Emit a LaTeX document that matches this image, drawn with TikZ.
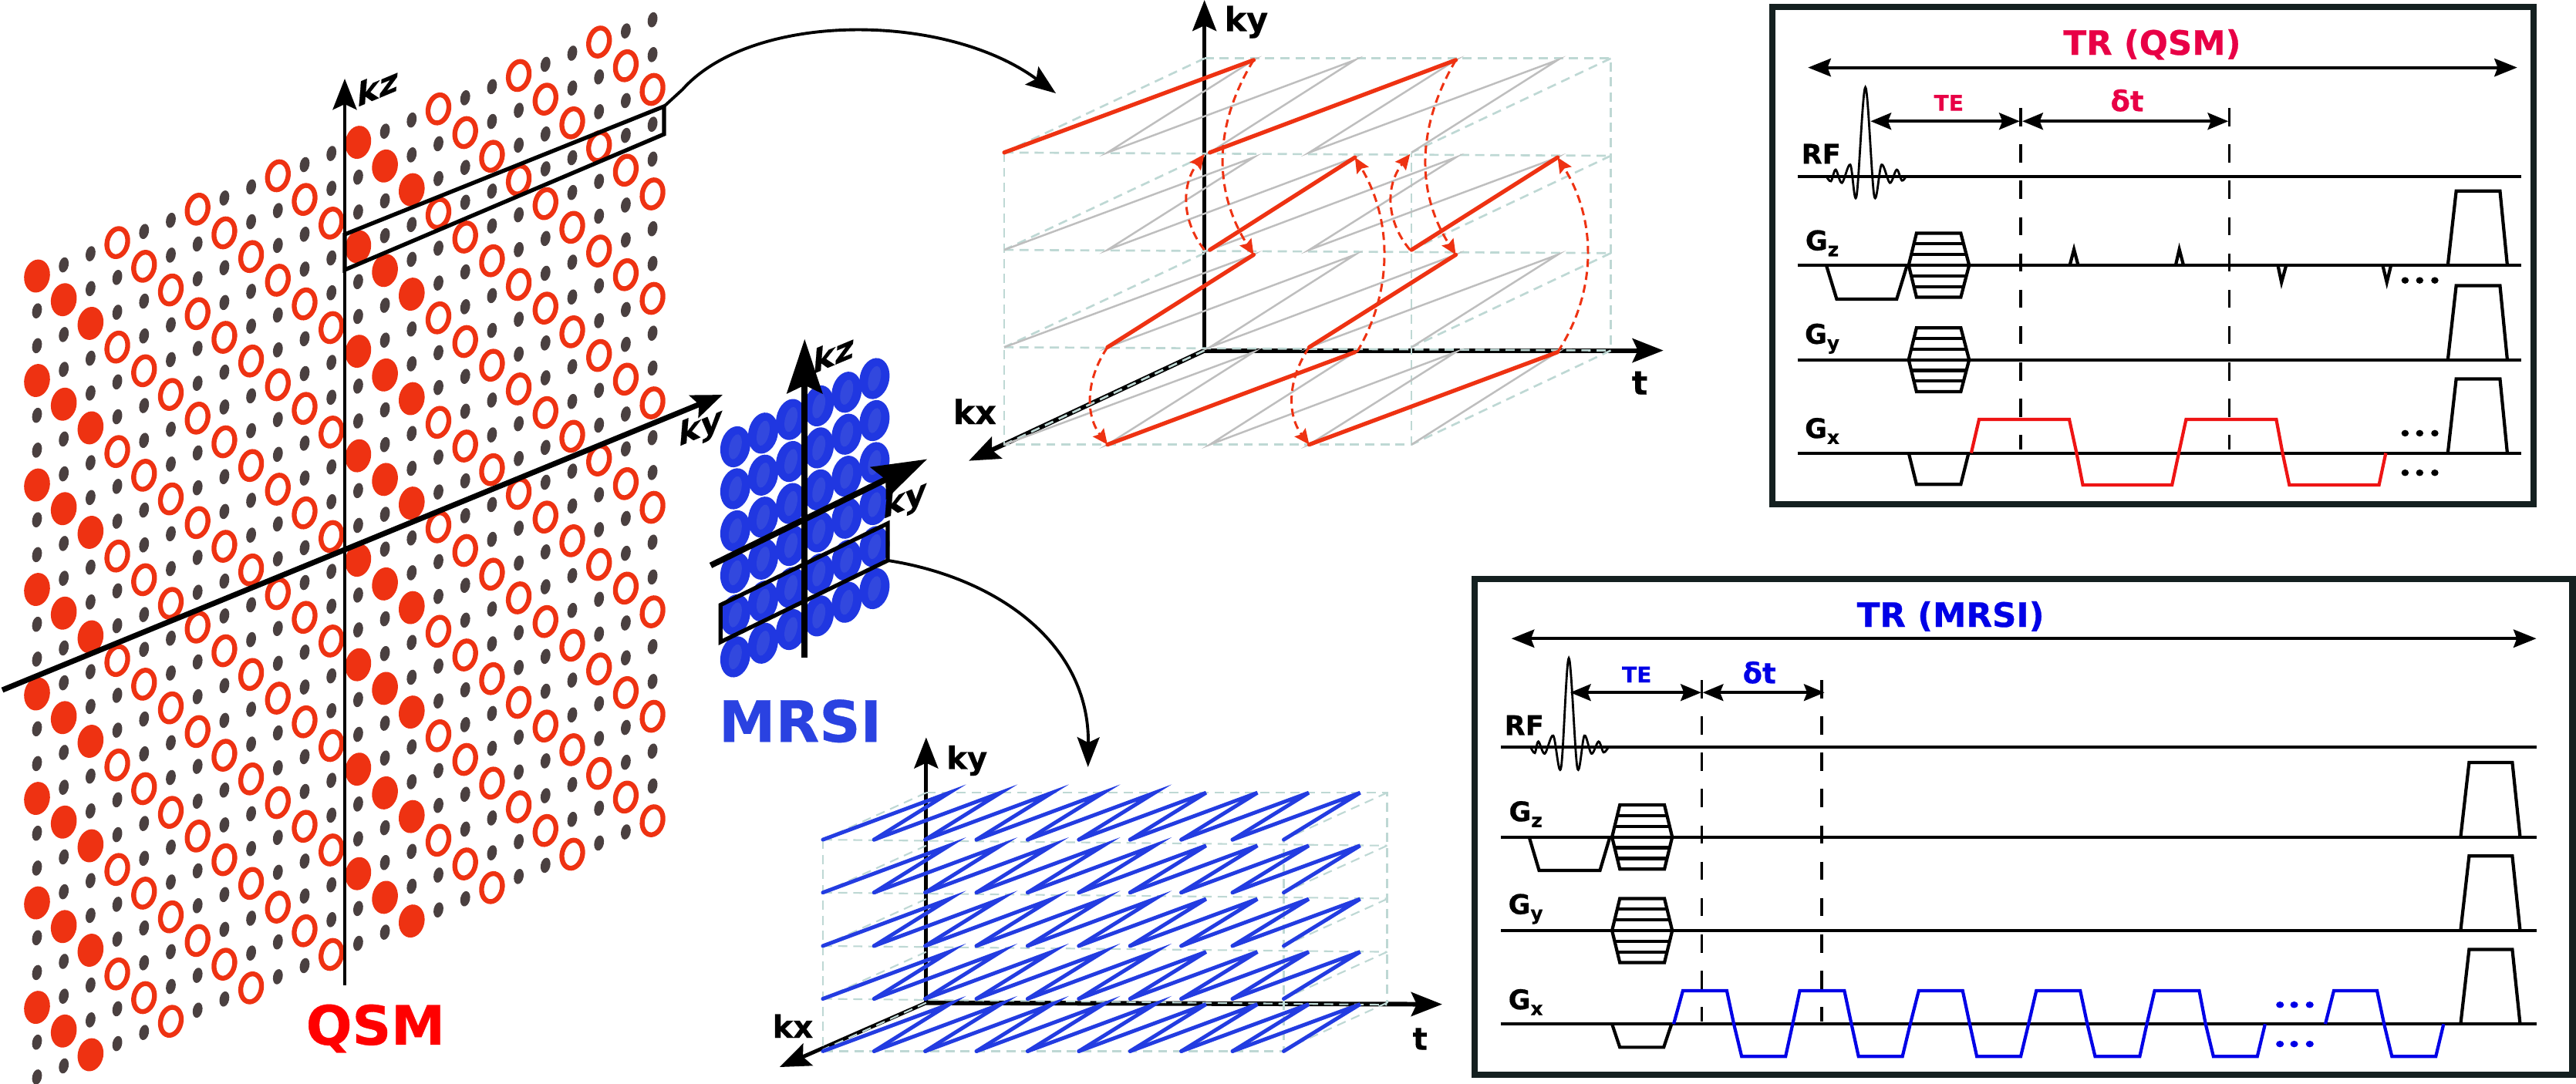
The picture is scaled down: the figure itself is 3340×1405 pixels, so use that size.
\documentclass[tikz,border=0pt]{standalone}
\usepackage{fontspec}
\setmainfont{DejaVu Sans}[BoldFeatures={FakeBold=0.5}]
\usetikzlibrary{arrows.meta}
\definecolor{qred}{RGB}{238,50,18}
\definecolor{qdot}{RGB}{74,64,64}
\definecolor{mblue}{RGB}{32,55,225}
\definecolor{mbluein}{RGB}{50,72,222}
\definecolor{mlabel}{RGB}{42,66,225}
\definecolor{griddash}{RGB}{190,216,212}
\definecolor{zigray}{RGB}{190,190,190}
\definecolor{zigblue}{RGB}{35,60,225}
\definecolor{boxdark}{RGB}{20,32,32}
\definecolor{trq}{RGB}{232,0,70}
\definecolor{trm}{RGB}{0,0,230}
\definecolor{readred}{RGB}{238,20,20}
\tikzset{
  x=0.01cm,y=-0.01cm,
  axishead/.style={-{Stealth[length=11.4pt,width=8.8pt,inset=2pt]}},
  bigaxis/.style={axishead,line width=1.6pt,black},
  thinaxis/.style={axishead,line width=1.4pt,black},
  griddashed/.style={griddash,line width=0.75pt,dash pattern=on 3.4pt off 2.2pt},
  zig/.style={zigray,line width=0.7pt},
  redzig/.style={qred,line width=1.5pt,line cap=round},
  redarc/.style={qred,line width=0.85pt,dash pattern=on 3pt off 1.8pt,-{Stealth[length=5.6pt,width=5pt,inset=0.8pt]}},
  bluezig/.style={zigblue,line width=1.4pt,line join=miter,line cap=round},
  selbox/.style={black,line width=1.5pt,line join=miter},
  curvearrow/.style={black,line width=1.1pt,-{Stealth[length=11pt,width=8.2pt,inset=2pt]}},
  axlabel/.style={font=\fontsize{12.2}{12.2}\selectfont\bfseries,inner sep=0pt},
  frame/.style={boxdark,line width=2.3pt},
  baseln/.style={black,line width=1.15pt},
  pulse/.style={black,line width=1.2pt,line join=miter},
  rfwave/.style={black,line width=0.8pt},
  dbl/.style={black,line width=1.2pt,{Stealth[length=8.4pt,width=6.6pt,inset=1.2pt]}-{Stealth[length=8.4pt,width=6.6pt,inset=1.2pt]}},
  dblsmall/.style={black,line width=1.05pt,{Stealth[length=7.6pt,width=6.2pt,inset=1.2pt]}-{Stealth[length=7.6pt,width=6.2pt,inset=1.2pt]}},
  timing/.style={black,line width=0.95pt,dash pattern=on 6.7pt off 6.7pt},
  seqlabel/.style={font=\fontsize{10}{10}\selectfont\bfseries,inner sep=0pt},
  trlabel/.style={font=\fontsize{12.4}{12.4}\selectfont\bfseries,inner sep=0pt},
  telabel/.style={font=\fontsize{8}{8}\selectfont\bfseries,inner sep=0pt},
  dtlabel/.style={font=\fontsize{10.5}{10.5}\selectfont\bfseries,inner sep=0pt},
  redread/.style={readred,line width=1.2pt,line join=miter},
  blueread/.style={trm,line width=1.2pt,line join=miter}
}
\newcommand{\Gsub}[2]{#1\raisebox{-0.4ex}{\fontsize{7}{7}\selectfont #2}}
\newcommand{\hexblob}[6]{% L l r R base halfheight(scope units)
  \draw[pulse] (#1,#5) -- (#2,#5-#6) -- (#3,#5-#6) -- (#4,#5) -- (#3,#5+#6) -- (#2,#5+#6) -- cycle;
  \foreach \f in {0.333,0.667}{
    \pgfmathsetmacro{\xl}{#1+(#2-#1)*\f}
    \pgfmathsetmacro{\xr}{#4-(#4-#3)*\f}
    \draw[pulse] (\xl,#5-#6*\f) -- (\xr,#5-#6*\f);
    \draw[pulse] (\xl,#5+#6*\f) -- (\xr,#5+#6*\f);
  }
}
\newcommand{\shlabel}[4]{\node[shift={(#2,#3)},cm={1,0.418,0.08,1,(0,0)},transform shape,axlabel] (#1) at (0,0) {#4};}
\begin{document}
\begin{tikzpicture}
\path[use as bounding box,fill=white] (0,0) rectangle (3340,1405);

% ---- QSM lattice ----
\foreach \i in {0,...,23}{
  \pgfmathsetmacro{\xx}{48+34.7*\i}
  \foreach \j in {0,...,23}{
    \pgfmathsetmacro{\yy}{358-14.45*\i+45.17*\j}
    \pgfmathtruncatemacro{\isbig}{mod(\j-\i+60,3)==0 ? 1 : 0}
    \pgfmathtruncatemacro{\isfill}{(\i<3 || (\i>11 && \i<15)) ? 1 : 0}
    \ifnum\isbig=1
      \ifnum\isfill=1
        \fill[qred,shift={(\xx,\yy)},rotate=-11] (0,0) ellipse [x radius=16.6,y radius=21.6];
      \else
        \draw[qred,line width=1.8pt,shift={(\xx,\yy)},rotate=-13] (0,0) ellipse [x radius=13.2,y radius=18.4];
      \fi
    \else
      \fill[qdot,shift={(\xx,\yy)},rotate=-12] (0,0) ellipse [x radius=6.2,y radius=10];
    \fi
  }
}
\coordinate (qkzbot) at (447,1278);
\coordinate (qkztop) at (447,102);
\coordinate (qkyl) at (3,895);
\coordinate (qkyr) at (937,512);
\draw[bigaxis,line width=1.4pt] (qkzbot) -- (qkztop);
\draw[bigaxis,line width=2pt] (qkyl) -- (qkyr);
\shlabel{qkz}{490}{112}{kz}
\shlabel{qky}{908}{556}{ky}
\coordinate (qa) at (447,304);
\coordinate (qb) at (861,138);
\coordinate (qc) at (861,174);
\coordinate (qd) at (447,350);
\draw[selbox] (qa) -- (qb) -- (qc) -- (qd) -- cycle;
\coordinate (qcurveend) at (1369,121);
\draw[curvearrow] (qb) -- (885,116) .. controls (975,15) and (1225,15) .. (qcurveend);
\node[font=\fontsize{20}{20}\selectfont\bfseries,text=red,inner sep=0pt] (qsmlabel) at (487,1334) {QSM};

% ---- MRSI lattice ----
\begin{scope}[shift={(880,400)},xscale=0.6378,yscale=0.641]
\foreach \i in {0,...,5}{
  \pgfmathsetmacro{\xx}{115+56.6*\i}
  \foreach \j in {0,...,5}{
    \pgfmathsetmacro{\yy}{280-27.6*\i+85*\j}
    \fill[mblue,shift={(\xx,\yy)},rotate=-12] (0,0) ellipse [x radius=30,y radius=42];
    \fill[mbluein,shift={(\xx,\yy)},rotate=-14] (0,0) ellipse [x radius=12,y radius=26];
  }
}
\coordinate (mkzbot) at (256,707);
\coordinate (mkztop) at (256,62);
\coordinate (mkyl) at (65,520);
\coordinate (mkyr) at (505,305);
\draw[black,line width=2.2pt,-{Stealth[length=20pt,width=13pt,inset=3pt]}] (mkzbot) -- (mkztop);
\draw[black,line width=2.2pt,-{Stealth[length=20pt,width=13pt,inset=3pt]}] (mkyl) -- (mkyr);
\coordinate (ma) at (85,600);
\coordinate (mb) at (425,435);
\coordinate (mc) at (425,510);
\coordinate (md) at (85,675);
\draw[selbox] (ma) -- (mb) -- (mc) -- (md) -- cycle;
\coordinate (mcurveend) at (832,928);
\draw[curvearrow] (mc) .. controls (650,545) and (835,680) .. (mcurveend);
\node[font=\fontsize{21}{21}\selectfont\bfseries,text=mlabel,inner sep=0pt] (mrsilabel) at (247,835) {MRSI};
\end{scope}
\shlabel{mkz}{1081}{458}{kz}
\shlabel{mky}{1173}{650}{ky}

% ---- top 3D trajectory ----
\begin{scope}[shift={(1200,0)},xscale=0.6378,yscale=0.4209]
\coordinate (to) at (567,1080);
\coordinate (tky) at (567,0);
\coordinate (tt) at (1500,1080);
\coordinate (tkx) at (88,1420);
\draw[thinaxis] (to) -- (tky);
\draw[thinaxis,line width=1.7pt] (to) -- (tt);
\draw[thinaxis,line width=1.7pt] (to) -- (tkx);
% grid
\draw[griddashed] (567,180) -- (1393,180) -- (1393,1080);
\draw[griddashed] (160,470) -- (160,1370) -- (988,1370) -- (988,470);
\draw[griddashed] (160,470) -- (1393,480);
\draw[griddashed] (160,770) -- (1393,780);
\draw[griddashed] (160,1070) -- (1393,1080);
\foreach \d in {0,300,600,900}{
  \draw[griddashed] (567,180+\d) -- (160,470+\d);
  \draw[griddashed] (1393,180+\d) -- (988,470+\d);
}
% grey zigzag
\foreach \d in {0,300,600,900}{
  \draw[zig] (160,470+\d) -- (667,185+\d) -- (370,470+\d) -- (873,185+\d) -- (578,470+\d) -- (1078,185+\d) -- (780,470+\d) -- (1285,185+\d) -- (988,470+\d);
}
% red segments
\draw[redzig] (160,470) -- (667,185);
\draw[redzig] (578,470) -- (1078,185);
\draw[redzig] (873,485) -- (578,770);
\draw[redzig] (1285,485) -- (988,770);
\draw[redzig] (667,785) -- (370,1070);
\draw[redzig] (1078,785) -- (780,1070);
\draw[redzig] (370,1370) -- (873,1085);
\draw[redzig] (780,1370) -- (1285,1085);
% red arcs
\draw[redarc] (370,1070) .. controls (325,1170) and (325,1280) .. (370,1370);
\draw[redarc] (780,1070) .. controls (735,1170) and (735,1280) .. (780,1370);
\draw[redarc] (877,1085) .. controls (950,900) and (950,680) .. (873,485);
\draw[redarc] (1285,1085) .. controls (1365,900) and (1365,680) .. (1285,485);
\draw[redarc] (567,770) .. controls (520,680) and (520,570) .. (567,475);
\draw[redarc] (985,770) .. controls (935,680) and (935,570) .. (985,475);
\draw[redarc] (667,185) .. controls (580,400) and (590,600) .. (667,785);
\draw[redarc] (1078,185) .. controls (995,400) and (1000,600) .. (1078,785);
\node[axlabel] (tkylabel) at (652,68) {ky};
\node[axlabel] (ttlabel) at (1452,1180) {t};
\node[axlabel] (tkxlabel) at (100,1268) {kx};
\end{scope}

% ---- bottom 3D trajectory ----
\begin{scope}[shift={(880,400)},xscale=0.6378,yscale=0.641]
\coordinate (bo) at (503,1405);
\coordinate (bky) at (503,868);
\coordinate (bt) at (1552,1408);
\coordinate (bkx) at (205,1535);
\draw[thinaxis] (bo) -- (bky);
\draw[thinaxis,line width=1.7pt] (bo) -- (bt);
\draw[thinaxis,line width=1.4pt] (bo) -- (bkx);
\draw[griddashed,line width=0.6pt] (503,980) -- (1440,980) -- (1440,1405);
\draw[griddashed,line width=0.6pt] (293,1075) -- (293,1503) -- (1230,1503) -- (1230,1075);
\foreach \d in {0,107,215,322}{
  \draw[griddashed,line width=0.6pt] (293,1075+\d) -- (1440,1087+\d);
}
\foreach \d in {0,107,215,322,425}{
  \draw[griddashed,line width=0.6pt] (503,980+\d) -- (293,1075+\d);
  \draw[griddashed,line width=0.6pt] (1440,980+\d) -- (1230,1075+\d);
}
\foreach \d in {0,107,215,322,428}{
  \foreach \k in {0,...,8}{
    \pgfmathsetmacro{\xa}{293+104.1*\k}
    \pgfmathsetmacro{\xb}{550+104.4*\k}
    \pgfmathsetmacro{\xc}{293+104.1*(\k+1)}
    \draw[bluezig] (\xa,1075+\d) -- (\xb,980+\d) -- (\xc,1075+\d);
  }
}
\node[axlabel,font=\fontsize{11.4}{11.4}\selectfont\bfseries] (bkylabel) at (586,915) {ky};
\node[axlabel,font=\fontsize{11.4}{11.4}\selectfont\bfseries] (btlabel) at (1507,1478) {t};
\node[axlabel,font=\fontsize{11.4}{11.4}\selectfont\bfseries] (bkxlabel) at (232,1452) {kx};
\end{scope}

% ---- QSM sequence ----
\begin{scope}[shift={(2280,0)},xscale=0.6761,yscale=0.4273]
\draw[frame] (26,22) rectangle (1487,1530);
\coordinate (qtrl) at (95,205);
\coordinate (qtrr) at (1455,205);
\draw[dbl] (qtrl) -- (qtrr);
\node[trlabel,text=trq] (qtr) at (755,135) {TR (QSM)};
\coordinate (qte1) at (215,368);
\coordinate (qte2) at (501,368);
\coordinate (qdt1) at (506,368);
\coordinate (qdt2) at (901,368);
\draw[dblsmall] (qte1) -- (qte2);
\draw[dblsmall] (qdt1) -- (qdt2);
\node[telabel,text=trq] (qte) at (365,312) {TE};
\node[dtlabel,text=trq] (qdt) at (707,305) {δt};
\draw[timing] (503,328) -- (503,1365);
\draw[timing] (903,328) -- (903,1365);
\foreach \b in {535,805,1092,1375} \draw[baseln] (75,\b) -- (1463,\b);
\node[seqlabel] (qrf) at (120,467) {RF};
\node[seqlabel] (qgz) at (122,738) {\Gsub{G}{z}};
\node[seqlabel] (qgy) at (122,1028) {\Gsub{G}{y}};
\node[seqlabel] (qgx) at (122,1308) {\Gsub{G}{x}};
\draw[rfwave] plot[smooth,tension=0.55] coordinates {(130,535) (139,550) (148,515) (160,555) (176,500) (188,595) (205,265) (222,595) (236,500) (252,555) (265,515) (275,548) (283,535)};
\draw[pulse] (130,805) -- (150,908) -- (265,908) -- (285,805);
\hexblob{288}{303}{388}{404}{805}{97}
\hexblob{288}{303}{388}{404}{1092}{97}
\draw[pulse] (597,805) -- (605,757) -- (613,805);
\draw[pulse] (800,805) -- (807,757) -- (815,805);
\draw[pulse] (996,805) -- (1003,857) -- (1012,805);
\draw[pulse] (1197,805) -- (1205,857) -- (1213,805);
\foreach \b in {805,1092,1375}{
  \pgfmathsetmacro{\ct}{\b-225}
  \draw[pulse] (1322,\b) -- (1338,\ct) -- (1422,\ct) -- (1436,\b);
}
\draw[pulse] (288,1375) -- (303,1470) -- (388,1470) -- (403,1375);
\draw[redread] (408,1375) -- (423,1273) -- (596,1273) -- (610,1375) -- (622,1472) -- (793,1472) -- (806,1375) -- (820,1273) -- (993,1273) -- (1005,1375) -- (1018,1472) -- (1190,1472) -- (1203,1375);
\foreach \yd in {851,1315,1435}\foreach \xd in {1240,1268,1297}
  \fill[black] (\xd,\yd) ellipse [x radius=7,y radius=10];
\end{scope}

% ---- MRSI sequence ----
\begin{scope}[shift={(1900,740)},xscale=0.9184,yscale=0.4241]
\draw[frame] (13,26) rectangle (1563,1543);
\coordinate (mtrl) at (65,208);
\coordinate (mtrr) at (1512,208);
\draw[dbl] (mtrl) -- (mtrr);
\node[trlabel,text=trm] (mtr) at (685,140) {TR (MRSI)};
\coordinate (mte1) at (148,373);
\coordinate (mte2) at (333,373);
\coordinate (mdt1) at (335,373);
\coordinate (mdt2) at (507,373);
\draw[dblsmall] (mte1) -- (mte2);
\draw[dblsmall] (mdt1) -- (mdt2);
\node[telabel,text=trm] (mte) at (242,318) {TE};
\node[dtlabel,text=trm] (mdt) at (415,312) {δt};
\draw[timing] (334,335) -- (334,1380);
\draw[timing] (503,335) -- (503,1380);
\foreach \b in {540,815,1101,1387} \draw[baseln] (50,\b) -- (1512,\b);
\node[seqlabel] (mrf) at (83,473) {RF};
\node[seqlabel] (mgz) at (85,745) {\Gsub{G}{z}};
\node[seqlabel] (mgy) at (85,1035) {\Gsub{G}{y}};
\node[seqlabel] (mgx) at (85,1320) {\Gsub{G}{x}};
\draw[rfwave] plot[smooth,tension=0.55] coordinates {(92,540) (98,558) (103,523) (112,560) (124,505) (135,603) (146,268) (158,603) (168,505) (178,560) (188,523) (195,556) (202,540)};
\draw[pulse] (90,815) -- (104,917) -- (190,917) -- (204,815);
\hexblob{207}{218}{281}{292}{815}{98}
\hexblob{207}{218}{281}{292}{1101}{98}
\foreach \b in {815,1101,1387}{
  \pgfmathsetmacro{\ct}{\b-228}
  \draw[pulse] (1405,\b) -- (1417,\ct) -- (1478,\ct) -- (1489,\b);
}
\draw[pulse] (207,1387) -- (218,1458) -- (280,1458) -- (291,1387);
\draw[blueread] (294,1387) -- (307,1285) -- (369,1285) -- (379,1387) -- (390,1486) -- (452,1486) -- (462,1387) -- (472,1285) -- (535,1285) -- (545,1387) -- (555,1486) -- (617,1486) -- (628,1387) -- (640,1285) -- (702,1285) -- (712,1387) -- (722,1486) -- (784,1486) -- (795,1387) -- (806,1285) -- (868,1285) -- (878,1387) -- (889,1486) -- (952,1486) -- (962,1387) -- (973,1285) -- (1036,1285) -- (1045,1387) -- (1056,1486) -- (1118,1486) -- (1129,1387);
\draw[blueread] (1214,1387) -- (1226,1285) -- (1287,1285) -- (1297,1387) -- (1308,1486) -- (1370,1486) -- (1381,1387);
\foreach \yd in {1328,1448}\foreach \xd in {1150,1170,1192}
  \fill[trm] (\xd,\yd) ellipse [x radius=5.5,y radius=10];
\end{scope}
\end{tikzpicture}
\end{document}
